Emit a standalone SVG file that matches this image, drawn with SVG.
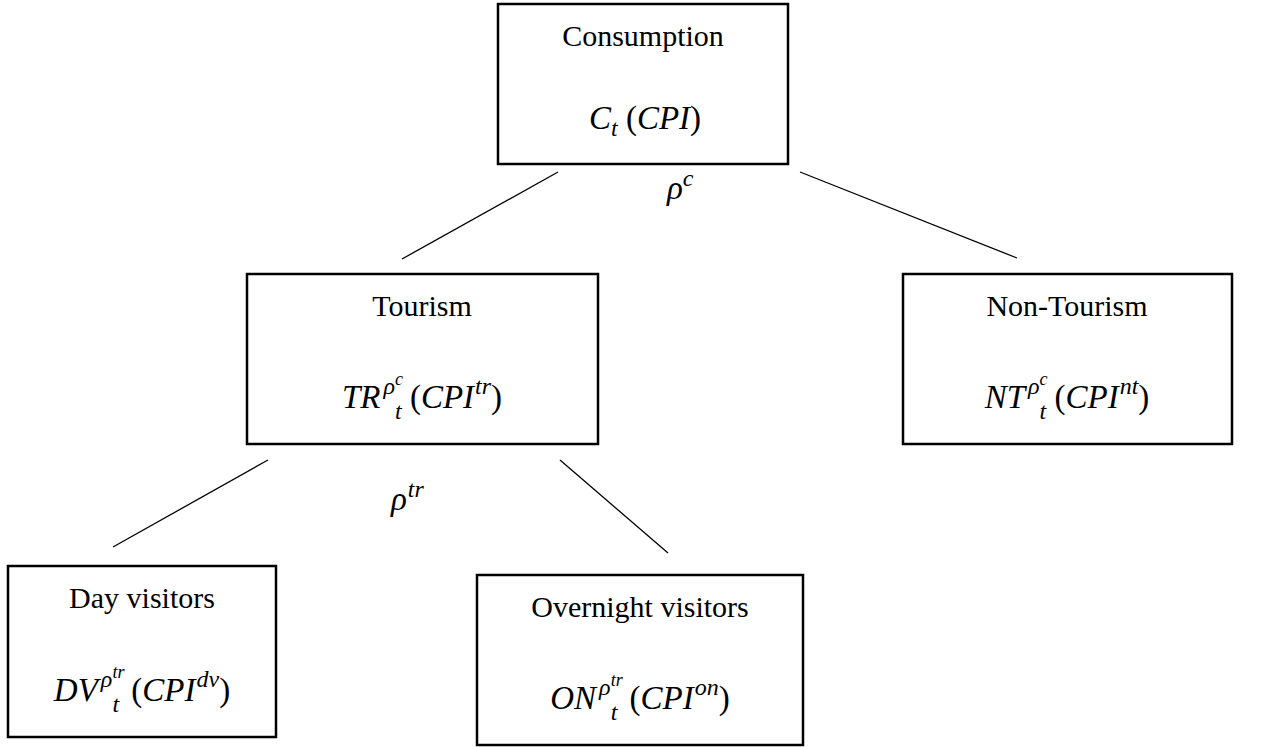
<svg xmlns="http://www.w3.org/2000/svg" width="1266" height="747" viewBox="0 0 1266 747">
<style>
.box{fill:#fff;stroke:#000;stroke-width:2.5}
.lbl{font-family:"Liberation Serif",serif;font-size:30px;text-anchor:middle;fill:#000}
.m{font-family:"Liberation Serif",serif;font-style:italic;font-size:33px;text-anchor:middle;fill:#000}
.r{font-family:"Liberation Serif",serif;font-style:italic;font-size:33px;fill:#000}
.up{font-style:normal}
.s{font-size:24px}
.ss{font-size:18px}
.conn line{stroke:#000;stroke-width:1.3}
</style>
<rect width="1266" height="747" fill="#fff"/>
<g class="conn" id="connectors">
<line x1="558" y1="172" x2="402" y2="259"/>
<line x1="800" y1="172" x2="1017" y2="258"/>
<line x1="268" y1="460" x2="113" y2="547"/>
<line x1="560" y1="460" x2="668" y2="553"/>
<text class="r" x="667" y="199">ρ<tspan class="s" dy="-13">c</tspan></text>
<text class="r" x="391" y="510">ρ<tspan class="s" dx="1" dy="-13">tr</tspan></text>
</g>
<g id="consumption">
<rect class="box" x="498" y="4" width="290" height="160"/>
<text class="lbl" x="643" y="46">Consumption</text>
<text class="m" x="645" y="129">C<tspan class="s" dy="7">t</tspan><tspan dy="-7"> </tspan><tspan class="up">(</tspan>CPI<tspan class="up">)</tspan></text>
</g>
<g id="tourism">
<rect class="box" x="247" y="274" width="351" height="170"/>
<text class="lbl" x="422" y="316">Tourism</text>
<text class="m" x="422" y="408">TR<tspan class="s" dx="3" dy="-14">ρ</tspan><tspan class="ss" dy="-9">c</tspan><tspan class="s" dx="-8" dy="34">t</tspan><tspan dy="-11"> </tspan><tspan class="up">(</tspan>CPI<tspan class="s" dx="1" dy="-14">tr</tspan><tspan class="up" dy="14">)</tspan></text>
</g>
<g id="non-tourism">
<rect class="box" x="903" y="274" width="329" height="170"/>
<text class="lbl" x="1067" y="316">Non-Tourism</text>
<text class="m" x="1067" y="408">NT<tspan class="s" dx="3" dy="-14">ρ</tspan><tspan class="ss" dy="-9">c</tspan><tspan class="s" dx="-8" dy="34">t</tspan><tspan dy="-11"> </tspan><tspan class="up">(</tspan>CPI<tspan class="s" dx="1" dy="-14">nt</tspan><tspan class="up" dy="14">)</tspan></text>
</g>
<g id="day-visitors">
<rect class="box" x="8" y="566" width="268" height="171"/>
<text class="lbl" x="142" y="608">Day visitors</text>
<text class="m" x="142" y="701">DV<tspan class="s" dx="3" dy="-14">ρ</tspan><tspan class="ss" dy="-9">tr</tspan><tspan class="s" dx="-12" dy="34">t</tspan><tspan dx="4" dy="-11"> </tspan><tspan class="up">(</tspan>CPI<tspan class="s" dx="1" dy="-14">dv</tspan><tspan class="up" dy="14">)</tspan></text>
</g>
<g id="overnight-visitors">
<rect class="box" x="477" y="575" width="326" height="170"/>
<text class="lbl" x="640" y="617">Overnight visitors</text>
<text class="m" x="640" y="709">ON<tspan class="s" dx="3" dy="-14">ρ</tspan><tspan class="ss" dy="-9">tr</tspan><tspan class="s" dx="-12" dy="34">t</tspan><tspan dx="4" dy="-11"> </tspan><tspan class="up">(</tspan>CPI<tspan class="s" dx="1" dy="-14">on</tspan><tspan class="up" dy="14">)</tspan></text>
</g>
</svg>
